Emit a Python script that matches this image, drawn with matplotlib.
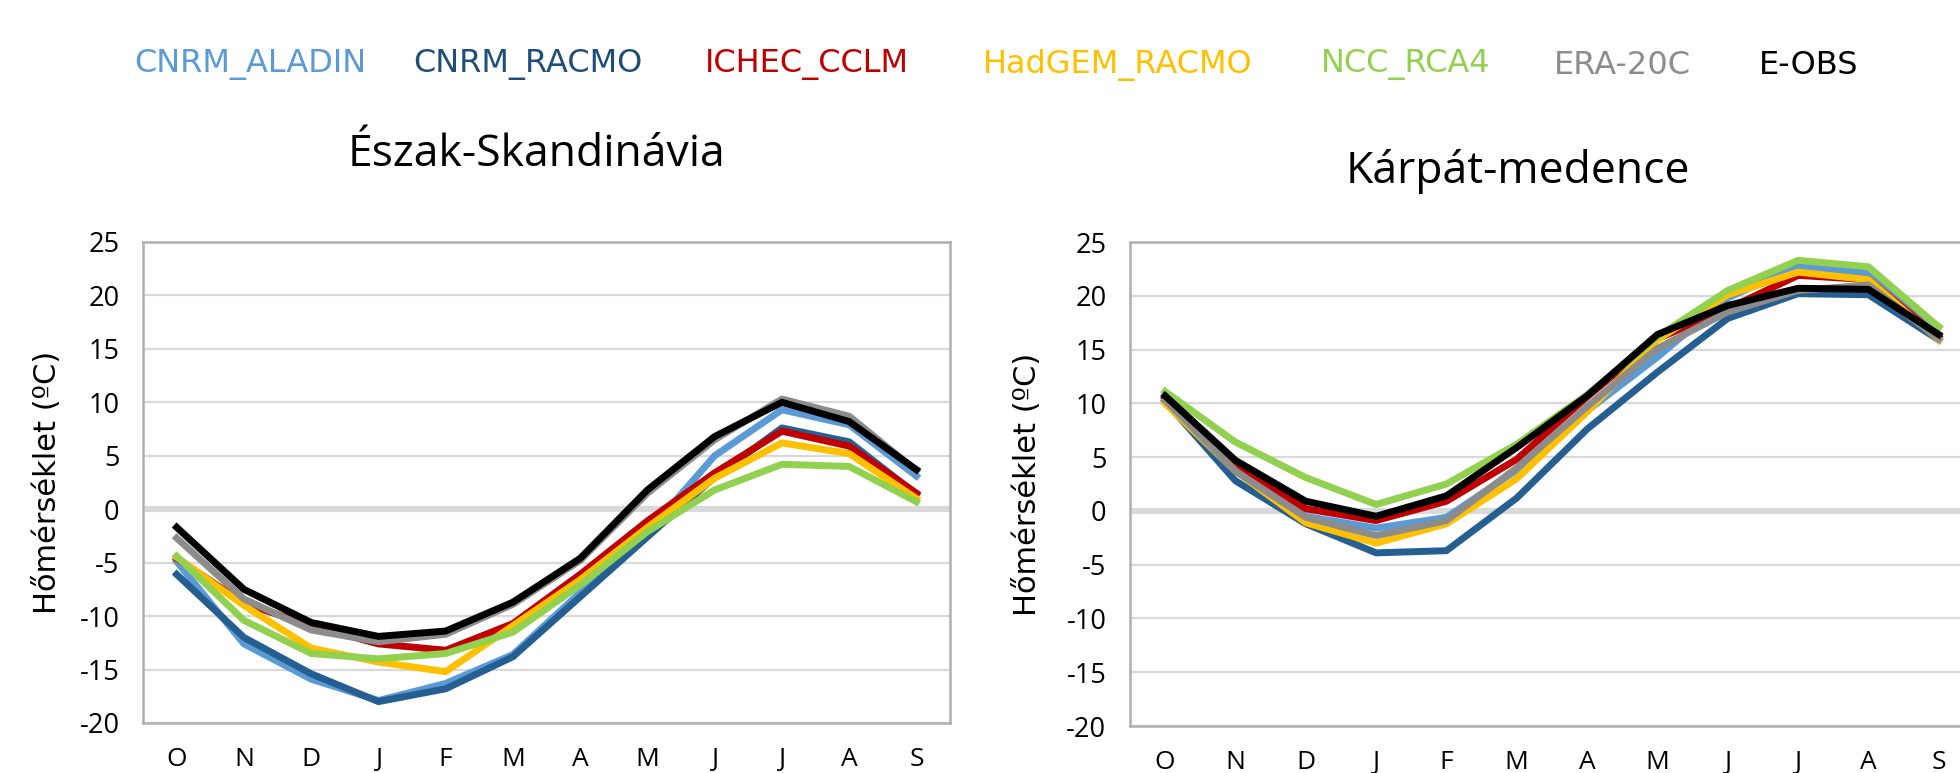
import matplotlib
matplotlib.use('Agg')
import matplotlib.pyplot as plt

plt.rcParams['axes.unicode_minus'] = False

# Months (October -> September)
months = ['O', 'N', 'D', 'J', 'F', 'M', 'A', 'M', 'J', 'J', 'A', 'S']
models = ['CNRM_ALADIN', 'CNRM_RACMO', 'ICHEC_CCLM', 'HadGEM_RACMO', 'NCC_RCA4', 'ERA-20C', 'E-OBS']
line_colors = ['#5B9BD5', '#255E91', '#C00000', '#FFC000', '#92D050', '#8C8C8C', '#000000']
text_colors = ['#5B9BD5', '#1F4E79', '#C00000', '#FFC000', '#92D050', '#8C8C8C', '#000000']

# Észak-Skandinávia monthly mean temperature
north_aladin = [-4.9, -12.6, -15.9, -17.9, -16.3, -13.6, -7.8, -2.2, 5.0, 9.3, 7.9, 3.1]
north_racmo = [-6.1, -12.0, -15.4, -18.0, -16.8, -13.8, -8.2, -2.6, 3.0, 7.6, 6.3, 1.4]
north_cclm = [-4.6, -8.8, -10.9, -12.6, -13.2, -10.7, -6.1, -1.1, 3.4, 7.3, 5.9, 1.5]
north_hadgem = [-4.5, -9.0, -13.0, -14.3, -15.2, -10.9, -6.6, -1.7, 2.9, 6.2, 5.2, 1.0]
north_rca4 = [-4.4, -10.4, -13.5, -14.0, -13.5, -11.5, -7.1, -2.1, 1.8, 4.2, 4.0, 0.7]
north_era = [-2.7, -8.4, -11.3, -12.4, -11.7, -8.9, -4.8, 1.5, 6.5, 10.3, 8.7, 3.6]
north_eobs = [-1.7, -7.5, -10.6, -11.9, -11.4, -8.7, -4.6, 1.8, 6.8, 10.0, 8.2, 3.7]

# Kárpát-medence monthly mean temperature
carp_aladin = [10.5, 4.0, -0.5, -1.6, -0.6, 3.8, 9.3, 14.3, 19.8, 22.8, 22.1, 17.1]
carp_racmo = [10.2, 2.8, -1.2, -3.9, -3.7, 1.2, 7.6, 12.9, 17.9, 20.2, 20.1, 15.9]
carp_cclm = [10.5, 4.4, 0.2, -0.9, 0.9, 4.8, 10.6, 16.0, 18.8, 21.9, 21.5, 16.2]
carp_hadgem = [10.0, 3.7, -1.1, -3.0, -1.2, 3.0, 9.2, 15.9, 20.1, 22.2, 21.5, 15.9]
carp_rca4 = [11.1, 6.4, 3.1, 0.6, 2.5, 6.2, 10.8, 16.2, 20.5, 23.3, 22.7, 17.1]
carp_era = [10.3, 3.7, -0.6, -2.3, -0.9, 4.0, 9.7, 15.1, 18.5, 20.5, 21.0, 16.0]
carp_eobs = [10.7, 4.7, 0.9, -0.5, 1.4, 5.9, 10.7, 16.4, 19.1, 20.7, 20.6, 16.4]

north = [north_aladin, north_racmo, north_cclm, north_hadgem, north_rca4, north_era, north_eobs]
carp = [carp_aladin, carp_racmo, carp_cclm, carp_hadgem, carp_rca4, carp_era, carp_eobs]

tick_font = 'Open Sans'
fig = plt.figure(figsize=(19.6, 7.73), dpi=100)


def draw_panel(ax, series, label_x):
    x = range(len(months))
    for vals, col in zip(series, line_colors):
        ax.plot(x, vals, color=col, lw=5, solid_joinstyle='round', zorder=3)
    ax.set_xlim(-0.5, len(months) - 0.5)
    ax.set_ylim(-20, 25)
    ax.set_yticks(range(-20, 30, 5))
    ax.set_xticks(list(x))
    ax.set_xticklabels(months, fontsize=19, family=tick_font)
    for lab in ax.get_yticklabels():
        lab.set_fontsize(19.5)
        lab.set_family(tick_font)
    ax.tick_params(axis='both', length=0)
    ax.tick_params(axis='y', pad=17)
    ax.tick_params(axis='x', pad=17)
    ax.grid(axis='y', color='#d9d9d9', lw=1.6, zorder=0)
    ax.axhline(0, color='#d9d9d9', lw=4.5, zorder=1)
    for s in ax.spines.values():
        s.set_color('#b0b0b0')
        s.set_linewidth(1.8)
    ax.set_ylabel('Hőmérséklet (ºC)', fontsize=22)
    ax.yaxis.set_label_coords(label_x, 0.5)


ax1 = fig.add_axes([0.0730, 0.0647, 0.4117, 0.6223])
draw_panel(ax1, north, -0.100)
ax2 = fig.add_axes([0.5765, 0.0608, 0.4306, 0.6261])
draw_panel(ax2, carp, -0.104)

# Titles of the two regions
fig.text(536 / 1960, 1 - 155 / 773, 'Észak-Skandinávia', fontsize=32, family=tick_font,
         ha='center', va='center')
fig.text(1518 / 1960, 1 - 172 / 773, 'Kárpát-medence', fontsize=32, family=tick_font,
         ha='center', va='center')

# Coloured text legend on top
legend_x = [250, 528, 807, 1118, 1406, 1622, 1809]
for name, col, xpos in zip(models, text_colors, legend_x):
    fig.text(xpos / 1960, 1 - 65 / 773, name, color=col, fontsize=23,
             ha='center', va='center')

fig.savefig('out.png', dpi=100)
